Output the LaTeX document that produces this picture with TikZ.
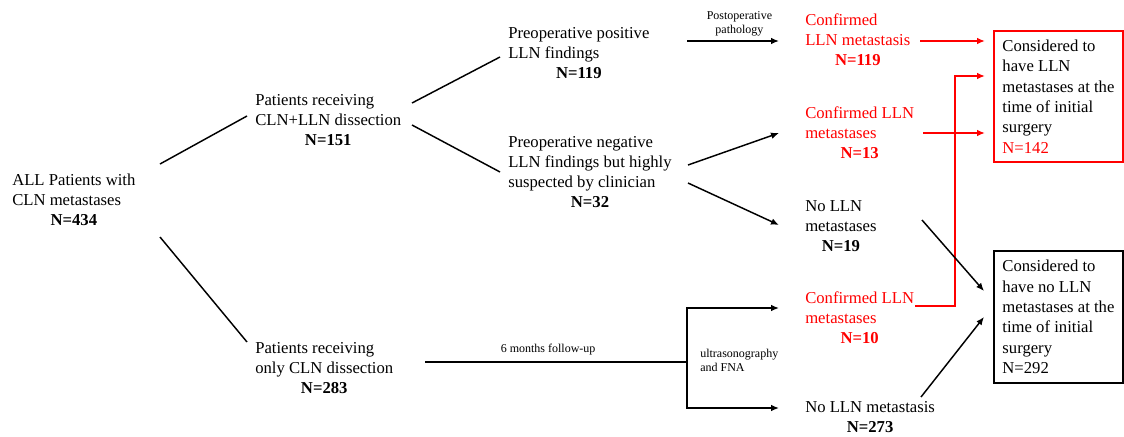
\documentclass[tikz,border=0pt]{standalone}
\usepackage{fontspec}
\setmainfont{Liberation Serif}
\usetikzlibrary{arrows.meta,positioning}

\newcommand{\flowtext}[2]{\begin{tabular}{@{}l@{}}#1\\\multicolumn{1}{@{}c@{}}{\textbf{#2}}\end{tabular}}

\begin{document}
\begin{tikzpicture}[x=0.75pt,y=-0.75pt,
	txt/.style={anchor=west,inner sep=0pt,font=\fontsize{12.5}{15}\selectfont},
	note/.style={inner sep=0pt,font=\fontsize{9}{10.5}\selectfont},
	result/.style={draw,line width=1.4pt,anchor=north west,inner sep=0pt,minimum width=96.75pt,align=left,font=\fontsize{12.5}{15.3}\selectfont},
	link/.style={line width=1.1pt},
	flow/.style={line width=1.1pt,-{Latex[length=6pt,width=5pt]}},
	redflow/.style={flow,red,line width=1.4pt}]
	\useasboundingbox (0,0) rectangle (1124,436);

	\node[txt] (all) at (12,201) {\flowtext{ALL Patients with\\CLN metastases}{N=434}};
	\node[txt] (both) at (255,121) {\flowtext{Patients receiving\\CLN+LLN dissection}{N=151}};
	\node[txt] (only) at (255,369) {\flowtext{Patients receiving\\only CLN dissection}{N=283}};
	\node[txt] (pos) at (508,54) {\flowtext{Preoperative positive\\LLN findings}{N=119}};
	\node[txt] (neg) at (508,173) {\flowtext{Preoperative negative\\LLN findings but highly\\suspected by clinician}{N=32}};
	\node[txt,red] (conf1) at (805,41) {\flowtext{Confirmed\\LLN metastasis}{N=119}};
	\node[txt,red] (conf2) at (805,134) {\flowtext{Confirmed LLN\\metastases}{N=13}};
	\node[txt] (nolln1) at (805,227) {\flowtext{No LLN\\metastases}{N=19}};
	\node[txt,red] (conf3) at (805,319) {\flowtext{Confirmed LLN\\metastases}{N=10}};
	\node[txt] (nolln2) at (805,418) {\flowtext{No LLN metastasis}{N=273}};
	\node[result,draw=red,minimum height=98.25pt] (metbox) at (993,30)
		{Considered to\\have LLN\\metastases at the\\time of initial\\surgery\\{\color{red}N=142}};
	\node[result,minimum height=99pt] (nometbox) at (993,250)
		{Considered to\\have no LLN\\metastases at the\\time of initial\\surgery\\N=292};
	\coordinate (split) at (687,362);

	% first split
	\draw[link] ([shift={(148,-37)}]all.west) -- ([shift={(-8,-5)}]both.west);
	\draw[link] ([shift={(148,36)}]all.west) -- ([shift={(-8,-27)}]only.west);
	\draw[link] ([shift={(157,-18)}]both.west) -- ([shift={(-8,3)}]pos.west);
	\draw[link] ([shift={(157,4)}]both.west) -- ([shift={(-8,-1)}]neg.west);

	% pathology
	\draw[flow] ([shift={(179,-13)}]pos.west) -- node[note,above=3pt,pos=0.57,align=center] {Postoperative\\pathology} ([shift={(-26,0)}]conf1.west);
	\draw[flow] ([shift={(180,-8)}]neg.west) -- ([shift={(-26,-1)}]conf2.west);
	\draw[flow] ([shift={(180,10)}]neg.west) -- ([shift={(-26,-2)}]nolln1.west);

	% follow-up
	\draw[link] ([shift={(170,-7)}]only.west) -- node[note,above=5pt,pos=0.47] {6 months follow-up} (split);
	\draw[flow] (split) |- ([shift={(-26,-11)}]conf3.west);
	\draw[flow] (split) |- ([shift={(-26,-10)}]nolln2.west);
	\node[note,anchor=west,align=left] (fna) at ([shift={(13,-2)}]split) {ultrasonography\\and FNA};

	% outcome
	\draw[redflow] ([shift={(115,0)}]conf1.west) -- ([shift={(-8,11)}]metbox.north west);
	\draw[redflow] ([shift={(118,-1)}]conf2.west) -- ([shift={(-8,103)}]metbox.north west);
	\draw[redflow] ([shift={(110,-13)}]conf3.west) -| ([shift={(-38,46)}]metbox.north west) -- ([shift={(-8,46)}]metbox.north west);
	\draw[flow] ([shift={(117,-7)}]nolln1.west) -- ([shift={(-9,41)}]nometbox.north west);
	\draw[flow] ([shift={(116,-21)}]nolln2.west) -- ([shift={(-9,67)}]nometbox.north west);
\end{tikzpicture}
\end{document}
